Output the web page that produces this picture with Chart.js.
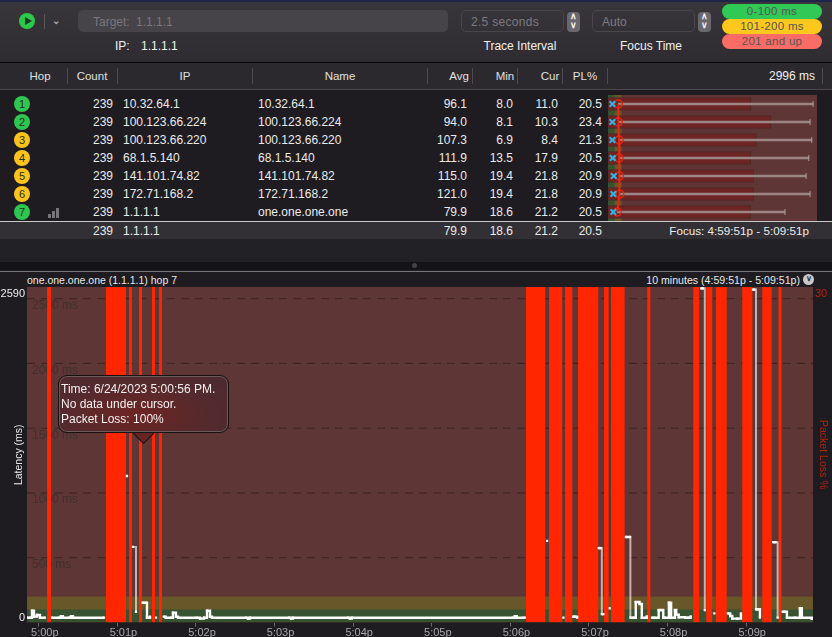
<!DOCTYPE html>
<html>
<head>
<meta charset="utf-8">
<script src="https://cdn.jsdelivr.net/npm/chart.js@4"></script>
<style>
html, body { margin: 0; padding: 0; background: #1e1c21; }
body { position: relative; width: 832px; height: 637px; overflow: hidden; font: 12px "Liberation Sans", Arial, sans-serif; color: #ebebeb; }
.abs { position: absolute; white-space: nowrap; line-height: 14px; }
.r { text-align: right; }
.c { text-align: center; transform: translateX(-50%); }
.band { position: absolute; left: 0; width: 832px; }
.box { position: absolute; border-radius: 5px; box-sizing: border-box; }
.pill { position: absolute; left: 722px; width: 100px; height: 15px; border-radius: 8px; text-align: center; line-height: 15px; font-size: 11.5px; letter-spacing: .3px; color: #555; }
.hop { position: absolute; left: 14px; width: 16px; height: 16px; border-radius: 50%; text-align: center; line-height: 16px; font-size: 11px; color: #26301f; }
.sep { position: absolute; top: 68px; width: 1px; height: 16px; background: #4c4a4f; }
.step { position: absolute; top: 12px; width: 13px; height: 20px; border-radius: 4px; background: #6a686d; color: #f4f4f4; font-size: 9px; font-weight: bold; line-height: 9px; text-align: center; }
#tip { position: absolute; left: 58px; top: 375px; width: 171px; height: 58px; border-radius: 9px; box-sizing: border-box; border: 1px solid #17120f; box-shadow: 0 0 0 1px #6b5a5a inset; background: radial-gradient(ellipse at 45% 70%, #6e2422 0%, #552a2d 55%, #4a2a30 100%); padding: 6px 2px 0 2px; font-size: 12px; line-height: 15px; color: #f2f0f0; }
#tipCaret { position: absolute; left: 136px; top: 426px; width: 14px; height: 14px; transform: rotate(45deg); background: #642524; border-right: 1px solid #17120f; border-bottom: 1px solid #17120f; }
#hopChart { position: absolute; left: 608px; top: 95px; }
#mainChart { position: absolute; left: 0; top: 272px; }
</style>
</head>
<body>
<div class="band" style="top:0;height:2px;background:#1f2448"></div>
<div class="band" style="top:2px;height:60px;background:linear-gradient(#38353b,#2e2c31)"></div>
<div class="band" style="top:62px;height:1px;background:#050505"></div>
<div class="band" style="top:63px;height:26px;background:#2b292d"></div>
<div class="band" style="top:89px;height:1px;background:#4a484c"></div>
<div class="band" style="top:90px;height:131px;background:#1e1c20"></div>
<div class="band" style="top:221px;height:1px;background:#c8c8c8"></div>
<div class="band" style="top:222px;height:17px;background:#323034"></div>
<div class="band" style="top:239px;height:23px;background:#222125"></div>
<div class="band" style="top:262px;height:8px;background:#141316"></div>
<div class="band" style="top:271px;height:1px;background:#77757a"></div>
<div class="abs" style="left:412px;top:263px;width:5px;height:5px;border-radius:50%;background:#444"></div>

<div class="abs" style="left:19px;top:13px;width:16px;height:16px;border-radius:50%;background:#2cc84a"></div>
<div class="abs" style="left:25px;top:17px;width:0;height:0;border-left:7px solid #1b3a20;border-top:4px solid transparent;border-bottom:4px solid transparent"></div>
<div class="abs" style="left:44px;top:14px;width:1px;height:15px;background:#58565b"></div>
<div class="abs" style="left:52px;top:14px;color:#aaa;font-size:10px;font-weight:bold">&#8964;</div>
<div class="box" style="left:78px;top:10px;width:370px;height:22px;background:#464349"></div>
<div class="abs" style="left:93px;top:15px;font-size:12px;color:#79777b;word-spacing:3px">Target: 1.1.1.1</div>
<div class="abs" style="left:115px;top:39px;font-size:12px;color:#f0f0f0">IP:</div>
<div class="abs" style="left:141px;top:39px;font-size:12px;color:#f0f0f0">1.1.1.1</div>
<div class="box" style="left:461px;top:10px;width:103px;height:22px;border:1px solid #48464b"></div>
<div class="abs" style="left:471px;top:15px;font-size:12px;color:#7d7b80;letter-spacing:.3px">2.5 seconds</div>
<div class="step" style="left:567px">&#8743;<br>&#8744;</div>
<div class="box" style="left:592px;top:10px;width:103px;height:22px;border:1px solid #48464b"></div>
<div class="abs" style="left:602px;top:15px;font-size:12px;color:#7d7b80">Auto</div>
<div class="step" style="left:698px">&#8743;<br>&#8744;</div>
<div class="abs c" style="left:520px;top:39px;font-size:12px;color:#f0f0f0">Trace Interval</div>
<div class="abs c" style="left:651px;top:39px;font-size:12px;color:#f0f0f0">Focus Time</div>
<div class="pill" style="top:4px;background:#30c955">0-100 ms</div>
<div class="pill" style="top:19px;background:#fdc81e">101-200 ms</div>
<div class="pill" style="top:34px;background:#fc6c66">201 and up</div>

<div id="table"></div>
<div class="abs" style="left:27px;top:273px;font-size:10.5px;color:#e8e8e8">one.one.one.one (1.1.1.1) hop 7</div>
<div class="abs r" style="right:32px;top:273px;font-size:10.6px;color:#e8e8e8">10 minutes (4:59:51p - 5:09:51p)</div>
<div class="abs" style="left:803px;top:274px;width:11px;height:11px;border-radius:50%;background:#c9c8cb;color:#333;font-size:8px;line-height:10px;text-align:center;font-weight:bold">&#8744;</div>

<canvas id="hopChart" width="209" height="126"></canvas>
<canvas id="mainChart" width="832" height="365"></canvas>

<div id="tipCaret"></div>
<div id="tip"></div>

<script>
// top table
const columns = ['Hop', 'Count', 'IP', 'Name', 'Avg', 'Min', 'Cur', 'PL%'];
const hops = [1, 2, 3, 4, 5, 6, 7];
const counts = [239, 239, 239, 239, 239, 239, 239];
const ips = ['10.32.64.1', '100.123.66.224', '100.123.66.220', '68.1.5.140', '141.101.74.82', '172.71.168.2', '1.1.1.1'];
const names = ['10.32.64.1', '100.123.66.224', '100.123.66.220', '68.1.5.140', '141.101.74.82', '172.71.168.2', 'one.one.one.one'];
const avgs = [96.1, 94.0, 107.3, 111.9, 115.0, 121.0, 79.9];
const mins = [8.0, 8.1, 6.9, 13.5, 19.4, 19.4, 18.6];
const curs = [11.0, 10.3, 8.4, 17.9, 21.8, 21.8, 21.2];
const pls = [20.5, 23.4, 21.3, 20.5, 20.9, 20.9, 20.5];
const summary = [239, '1.1.1.1', 79.9, 18.6, 21.2, 20.5];
const tipLines = ['Time: 6/24/2023 5:00:56 PM.', 'No data under cursor.', 'Packet Loss: 100%'];

// hop chart (ms)
const maxWhisker = [2940, 2896, 2921, 2878, 2839, 2896, 2537];
const avgMarker = [148, 148, 158, 158, 163, 168, 133];
const curMarker = [62, 62, 62, 67, 82, 76, 76];

// latency graph
const gridValues = [500, 1000, 1500, 2000, 2500];
const bandTop = [100, 200, 2590];
const minuteTicks = [0, 60, 120, 180, 240, 300, 360, 420, 480, 540];
const minuteLabels = ['5:00p', '5:01p', '5:02p', '5:03p', '5:04p', '5:05p', '5:06p', '5:07p', '5:08p', '5:09p'];
// seconds after 5:00:00
const lossStart = [6.3, 51.3, 68.9, 76.5, 86.4, 91.8, 371.9, 389.5, 401.7, 411.6, 431.5, 436.8, 464.5, 499.6, 509.5, 516.9, 537, 552.3, 564.7];
const lossEnd = [9.3, 66.6, 71.1, 78.8, 88.7, 94, 386.6, 399.6, 407.3, 427.1, 435, 447.2, 466.8, 504.2, 514.1, 525.1, 544.7, 559.5, 567.1];
const latencyTime = [-9, -6.7, -5.2, -3.7, -1.4, 0.9, 4.7, 6.3,
  9.3, 10.1, 15.4, 16.9, 18.4, 23.1, 24.6, 26.1, 49.8, 51.3,
  66.6, 67.3, 68.9,
  71.1, 71.9, 74.2, 76.5,
  78.8, 79.2, 81.5, 82.6, 84.9, 86.4,
  88.7, 89.5, 91.8,
  94, 95.4, 96.9, 100.9, 102.4, 104.7, 106.3, 120.8, 123.1, 126.1, 128.4, 130.7, 132.2, 158.2, 159.7, 161.2,
  191, 192.5, 194, 236, 237.5, 239, 361.9, 363.4, 364.9, 371, 371.9,
  386.6, 388, 389.5,
  399.6, 400.5, 401.7,
  407.3, 407.9, 409.4, 410.9, 411.6,
  427.1, 427.5, 429, 429.8, 431, 431.5,
  435, 435.8, 436.8,
  447.2, 448.2, 451.3, 451.6, 453.9, 455.7, 458.6, 460.3, 464.1, 464.5,
  466.8, 468.1, 470, 473.2, 475, 476.7, 477.9, 481, 482.7, 485.6, 486.6, 488.5, 493.4, 495.8, 497.6, 499.6,
  504.2, 505.7, 507, 508.4, 509.5,
  514.1, 515.7, 516.9,
  525.1, 526, 527.8, 529.4, 533.2, 536, 537,
  544.7, 545.2, 546.3, 547.5, 549, 550.5, 552.3,
  559.5, 560.6, 562.5, 564, 564.7,
  567.1, 567.9, 569.6, 571.1, 577.2, 581, 582.5, 590, 591];
const latencyMs = [37, 37, 91, 45, 58, 37, 37, null,
  null, 37, 37, 48, 37, 37, 48, 37, 37, null,
  null, 1131, null,
  null, 583, 83, null,
  null, 153, 153, 37, 45, null,
  null, 37, null,
  null, 45, 37, 37, 76, 45, 37, 37, 30, 37, 91, 45, 37, 37, 30, 37,
  37, 30, 37, 37, 30, 37, 37, 48, 37, 37, null,
  null, 630, null,
  null, 37, null,
  null, 45, 45, 37, null,
  null, 575, 575, 65, 65, null,
  null, 110, null,
  null, 660, 660, 37, 37, 158, 143, 37, 48, null,
  null, 37, 37, 96, 96, 37, 37, 153, 37, 96, 60, 40, 37, 37, 48, null,
  null, 2580, 2580, 96, null,
  null, 70, null,
  null, 70, 50, 30, 30, 70, null,
  null, 2570, 2570, 102, 102, 37, null,
  null, 620, 620, 37, null,
  null, 83, 83, 37, 37, 110, 37, 30, 30];

const axisMin = -9, axisMax = 591, latencyMax = 2590, lossAxisMax = 31, lossPct = 100, lossLabel = 30;

const colGreen = '#375331', colOlive = '#675729', colRed = '#5e3635', colStripe = '#ff2600';

// ---- html table
const table = document.getElementById('table');
function put(text, css, cls) {
  const d = document.createElement('div');
  d.className = cls || 'abs';
  d.style.cssText = css;
  d.textContent = text;
  table.appendChild(d);
}
const headX = [40, 92, 185, 340, 459, 505, 550, 585];
columns.forEach((c, i) => put(c, 'left:' + headX[i] + 'px;top:69px;font-size:11.5px;color:#e0e0e0', 'abs c'));
put('2996 ms', 'right:17px;top:69px;color:#f0f0f0', 'abs r');
[67, 117, 252, 427, 472, 517, 562, 607, 822].forEach(x => put('', 'left:' + x + 'px', 'sep'));

hops.forEach((h, i) => {
  const y = 97 + i * 18;
  const col = avgs[i] > 100 ? '#fdc31c' : '#2fc551';
  put(h, 'top:' + (y - 1) + 'px;background:' + col, 'hop');
  put(counts[i], 'right:719px;top:' + y + 'px', 'abs r');
  put(ips[i], 'left:123px;top:' + y + 'px');
  put(names[i], 'left:258px;top:' + y + 'px');
  put(avgs[i].toFixed(1), 'right:365px;top:' + y + 'px', 'abs r');
  put(mins[i].toFixed(1), 'right:319px;top:' + y + 'px', 'abs r');
  put(curs[i].toFixed(1), 'right:274px;top:' + y + 'px', 'abs r');
  put(pls[i].toFixed(1), 'right:230px;top:' + y + 'px', 'abs r');
});
// little bars icon on the selected hop
[[48, 4], [52, 7], [56, 10]].forEach(b => put('', 'left:' + b[0] + 'px;top:' + (218 - b[1]) + 'px;width:3px;height:' + b[1] + 'px;background:#77757a'));

put(summary[0], 'right:719px;top:224px', 'abs r');
put(summary[1], 'left:123px;top:224px');
put(summary[2].toFixed(1), 'right:365px;top:224px', 'abs r');
put(summary[3].toFixed(1), 'right:319px;top:224px', 'abs r');
put(summary[4].toFixed(1), 'right:274px;top:224px', 'abs r');
put(summary[5].toFixed(1), 'right:230px;top:224px', 'abs r');
put('Focus: 4:59:51p - 5:09:51p', 'right:23px;top:224px;font-size:11.7px', 'abs r');

document.getElementById('tip').innerHTML = tipLines.join('<br>');

// ---- hop bars
const span = (a, b) => hops.map(() => [a, b]);
new Chart(document.getElementById('hopChart'), {
  type: 'bar',
  data: {
    labels: hops,
    datasets: [
      { type: 'line', data: curMarker, showLine: false, clip: false, pointStyle: 'crossRot', pointRadius: 4, pointBorderColor: '#29b6e8', pointBorderWidth: 2, order: 1 },
      { type: 'line', data: avgMarker, clip: false, borderColor: '#e8280f', borderWidth: 2, pointStyle: 'circle', pointRadius: 4, pointBorderWidth: 1.5, pointBackgroundColor: 'rgba(0,0,0,0)', pointBorderColor: '#e8280f', order: 2 },
      { type: 'line', data: maxWhisker, showLine: false, pointStyle: 'line', pointRotation: 90, pointRadius: 3, pointBorderWidth: 1, pointBorderColor: '#a89a9a', order: 3 },
      { data: hops.map((h, i) => [avgMarker[i], maxWhisker[i]]), backgroundColor: '#9c8684', maxBarThickness: 2, order: 4 },
      { data: pls, xAxisID: 'xLoss', backgroundColor: '#6d2524', borderColor: '#4e2725', borderWidth: 1, maxBarThickness: 13, order: 5 },
      { data: span(200, 2996), backgroundColor: colRed, order: 6 },
      { data: span(100, 200), backgroundColor: colOlive, order: 7 },
      { data: span(0, 100), backgroundColor: colGreen, order: 8 }
    ]
  },
  options: {
    indexAxis: 'y',
    responsive: false,
    animation: false,
    layout: { padding: 0, autoPadding: false },
    plugins: { legend: { display: false }, tooltip: { enabled: false } },
    datasets: { bar: { grouped: false, barPercentage: 1, categoryPercentage: 1 } },
    scales: {
      x: { type: 'linear', min: 0, max: 2996, display: false },
      xLoss: { type: 'linear', min: 0, max: 30, display: false },
      y: { type: 'category', offset: true, display: false }
    }
  }
});

// ---- latency graph
const lossPoints = [];
lossStart.forEach((s, i) => {
  lossPoints.push({ x: s, y: 0 }, { x: s, y: lossPct }, { x: lossEnd[i], y: lossPct }, { x: lossEnd[i], y: 0 });
});
const latencyPoints = latencyTime.map((t, i) => ({ x: t, y: latencyMs[i] }));
const flat = v => [{ x: axisMin, y: v }, { x: axisMax, y: v }];

const datasets = [
  {
    data: latencyPoints, borderColor: '#ffffff', borderWidth: 2.4, stepped: true, spanGaps: false,
    pointStyle: 'rect', pointRadius: 1.6, pointBackgroundColor: '#fff', pointBorderWidth: 0, order: 1,
    // the tall spikes read thinner and greyer than the baseline
    segment: {
      borderColor: c => Math.abs(c.p0.parsed.y - c.p1.parsed.y) > 300 ? 'rgba(225,222,222,.75)' : undefined,
      borderWidth: c => Math.abs(c.p0.parsed.y - c.p1.parsed.y) > 300 ? 2 : undefined
    }
  },
  { data: lossPoints, yAxisID: 'y2', borderWidth: 0, pointRadius: 0, backgroundColor: colStripe, fill: 'origin', order: 2 }
];
gridValues.forEach(v => datasets.push({ data: flat(v), gridLabel: v + ' ms', borderColor: '#3b2521', borderWidth: 1, borderDash: [8, 6], pointRadius: 0, order: 3 }));
[colGreen, colOlive, colRed].forEach((c, i) => datasets.push({ data: flat(bandTop[i]), borderWidth: 0, pointRadius: 0, backgroundColor: c, fill: 'origin', order: 4 + i }));

const labelPlugin = {
  id: 'labelPlugin',
  afterDatasetDraw(chart, args) {
    const txt = chart.data.datasets[args.index].gridLabel;
    if (!txt) return;
    const ctx = chart.ctx, y = chart.scales.y;
    ctx.save();
    ctx.font = '12px "Liberation Sans"';
    ctx.fillStyle = '#40302e';
    ctx.textAlign = 'left';
    ctx.textBaseline = 'middle';
    ctx.fillText(txt, 32, y.getPixelForValue(parseInt(txt)) + 7);
    ctx.restore();
  },
  afterDraw(chart) {
    const ctx = chart.ctx, y = chart.scales.y, y2 = chart.scales.y2;
    ctx.save();
    ctx.font = '11px "Liberation Sans"';
    ctx.textBaseline = 'middle';
    ctx.textAlign = 'right';
    ctx.fillStyle = '#ececec';
    ctx.fillText(String(latencyMax), 25, y.getPixelForValue(latencyMax) + 7);
    ctx.fillText('0', 25, y.getPixelForValue(0) - 5);
    ctx.textAlign = 'left';
    ctx.fillStyle = '#c21d06';
    ctx.fillText(String(lossLabel), 815, y2.getPixelForValue(lossLabel) - 4);
    ctx.restore();
  }
};

new Chart(document.getElementById('mainChart'), {
  type: 'line',
  data: { datasets: datasets },
  plugins: [labelPlugin],
  options: {
    responsive: false,
    animation: false,
    layout: { padding: { top: 15 }, autoPadding: false },
    plugins: { legend: { display: false }, tooltip: { enabled: false } },
    scales: {
      x: {
        type: 'linear', min: axisMin, max: axisMax,
        afterBuildTicks: s => { s.ticks = minuteTicks.map(v => ({ value: v })); },
        afterFit: s => { s.height = 14.5; },
        grid: { display: true, drawOnChartArea: false, drawTicks: true, tickLength: 4, color: '#6c6a6f' },
        border: { display: false },
        ticks: {
          color: '#a9a7ab', font: { family: 'Liberation Sans', size: 11 }, padding: 0, maxRotation: 0, autoSkip: false, labelOffset: 6,
          callback: v => minuteLabels[minuteTicks.indexOf(v)]
        }
      },
      y: {
        type: 'linear', position: 'left', min: 0, max: latencyMax,
        afterFit: s => { s.width = 27; },
        grid: { display: false }, border: { display: false },
        ticks: { display: false },
        title: { display: true, text: 'Latency (ms)', color: '#e8e8e8', font: { family: 'Liberation Sans', size: 10.5 }, padding: { top: 13, bottom: 0 } }
      },
      y2: {
        type: 'linear', position: 'right', min: 0, max: lossAxisMax,
        afterFit: s => { s.width = 19; },
        grid: { display: false }, border: { display: false },
        ticks: { display: false },
        title: { display: true, text: 'Packet Loss %', color: '#b5200c', font: { family: 'Liberation Sans', size: 10.5 }, padding: { top: 3, bottom: 0 } }
      }
    }
  }
});
</script>
</body>
</html>
